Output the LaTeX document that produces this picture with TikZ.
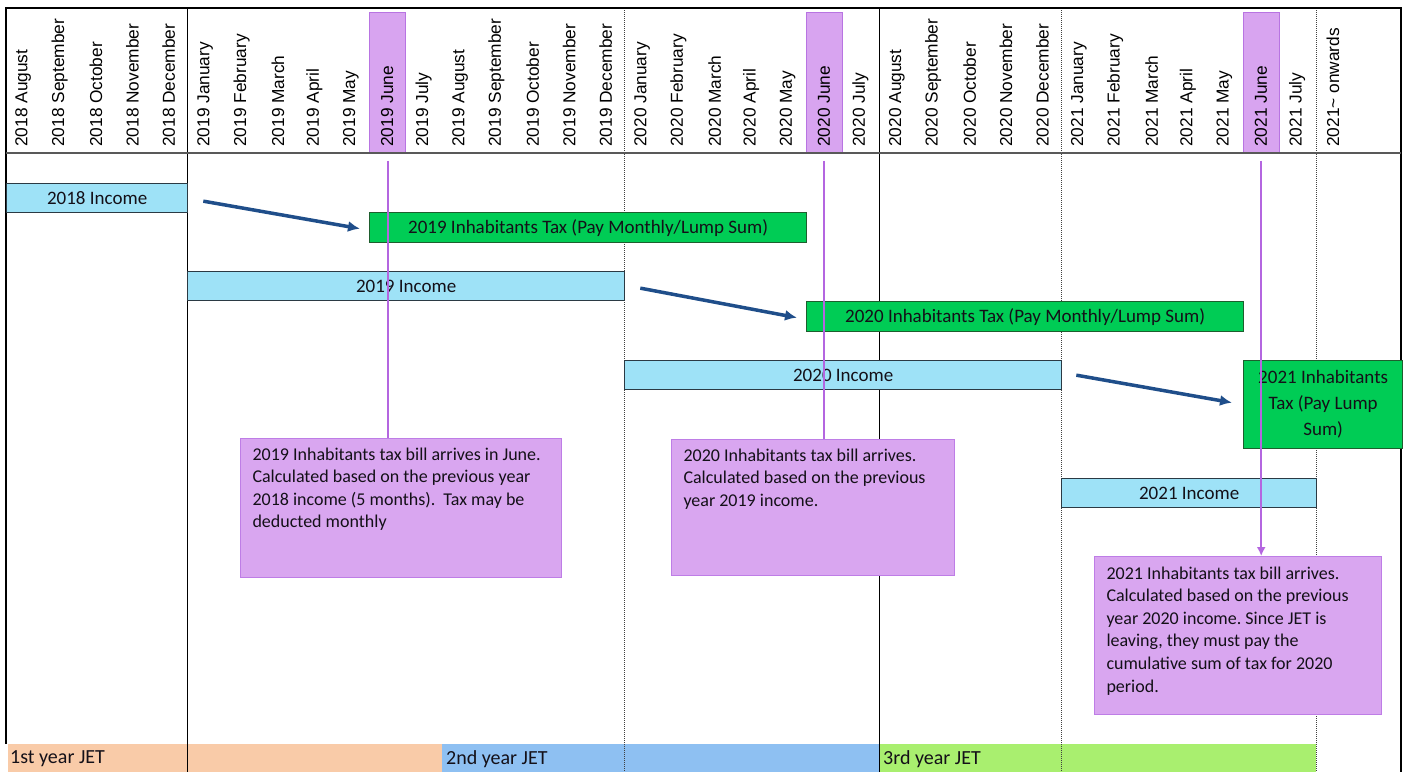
\documentclass[tikz,border=0pt]{standalone}
\usepackage{fontspec}
\setmainfont{Carlito}
\newfontfamily\hdrfont{Liberation Sans}
\usetikzlibrary{arrows.meta}
\frenchspacing
\definecolor{hlfill}{HTML}{D8A4F0}
\definecolor{hledge}{HTML}{B874E2}
\definecolor{pline}{HTML}{B466E0}
\definecolor{cofill}{HTML}{D9A6F0}
\definecolor{coedge}{HTML}{BE7DE6}
\definecolor{grfill}{HTML}{00CC55}
\definecolor{gredge}{HTML}{1E5E2E}
\definecolor{blfill}{HTML}{9EE2F7}
\definecolor{bledge}{HTML}{2B3A44}
\definecolor{arrcol}{HTML}{1F4E8A}
\definecolor{bandO}{HTML}{F9CBA8}
\definecolor{bandB}{HTML}{8EC0F2}
\definecolor{bandG}{HTML}{A9EF6F}
\definecolor{txt}{HTML}{141018}
\begin{document}
\begin{tikzpicture}[x=1pt,y=-1pt,
  hl/.style={fill=hlfill,draw=hledge,line width=0.8pt,inner sep=0pt,minimum width=36.4pt,minimum height=141pt,anchor=north west},
  hdr/.style={rotate=90,anchor=west,inner sep=0pt,font=\hdrfont\fontsize{17.3pt}{20pt}\selectfont,text=black},
  inc/.style={fill=blfill,draw=bledge,line width=1.3pt,inner sep=0pt,anchor=north west,minimum height=29pt,font=\fontsize{19pt}{23pt}\selectfont,text=txt},
  tax/.style={fill=grfill,draw=gredge,line width=1.3pt,inner sep=0pt,anchor=north west,minimum height=30pt,font=\fontsize{19pt}{23pt}\selectfont,text=txt},
  callout/.style={fill=cofill,draw=coedge,line width=1pt,inner xsep=12pt,inner ysep=9pt,anchor=north west,font=\fontsize{18pt}{22.6pt}\selectfont,text=txt},
  plinest/.style={draw=pline,line width=2pt},
  barr/.style={draw=arrcol,line width=3.5pt,-{Latex[length=12pt,width=11pt]}},
  dotln/.style={draw=black!75,line width=0.8pt,dash pattern=on 1pt off 1pt},
  solln/.style={draw=black,line width=0.9pt},
  bandlbl/.style={anchor=west,inner sep=0pt,font=\fontsize{20pt}{24pt}\selectfont,text=txt}]
\useasboundingbox (0,0) rectangle (1408,772);
\fill[white] (0,0) rectangle (1408,772);
% bottom bands
\fill[bandO] (8,744) rectangle (442,772);
\fill[bandB] (442,744) rectangle (879,772);
\fill[bandG] (879,744) rectangle (1316,772);
\node[bandlbl] (b1) at (10,759) {1st year JET};
\node[bandlbl] (b2) at (446,759) {2nd year JET};
\node[bandlbl] (b3) at (883,759) {3rd year JET};
% June highlights
\node[hl] (h19) at ({5+36.4*10},12) {};
\node[hl] (h20) at ({5+36.4*22},12) {};
\node[hl] (h21) at ({5+36.4*34},12) {};
% header labels
\foreach \t [count=\i from 0] in {2018 August,2018 September,2018 October,2018 November,2018 December,
  2019 January,2019 February,2019 March,2019 April,2019 May,2019 June,2019 July,2019 August,2019 September,2019 October,2019 November,2019 December,
  2020 January,2020 February,2020 March,2020 April,2020 May,2020 June,2020 July,2020 August,2020 September,2020 October,2020 November,2020 December,
  2021 January,2021 February,2021 March,2021 April,2021 May,2021 June,2021 July}
  \node[hdr] (m\i) at ({5+36.4*(\i+0.5)},147) {\t};
\node[hdr] (m36) at (1333,147) {2021\textasciitilde{} onwards};
% grid lines
\draw[solln] (187,8) -- (187,772);
\draw[dotln] (624,8) -- (624,772);
\draw[solln] (879,8) -- (879,772);
\draw[dotln] (1061,8) -- (1061,772);
\draw[dotln] (1316,8) -- (1316,772);
\draw[black,line width=1.2pt] (6,744) -- (6,8) -- (1401,8) -- (1401,772);
\draw[black!65,line width=2.2pt] (6,153) -- (1401,153);
% bars
\node[inc,minimum width=181pt] (i18) at (6,183) {2018 Income};
\node[tax,minimum width=437pt] (t19) at (369,212) {2019 Inhabitants Tax (Pay Monthly/Lump Sum)};
\node[inc,minimum width=437pt] (i19) at (187,271) {2019 Income};
\node[tax,minimum width=437pt] (t20) at (806,301) {2020 Inhabitants Tax (Pay Monthly/Lump Sum)};
\node[inc,minimum width=437pt] (i20) at (624,360) {2020 Income};
\node[tax,minimum width=159pt,minimum height=88pt,align=center,font=\fontsize{19pt}{26pt}\selectfont] (t21) at (1243,360) {2021 Inhabitants\\Tax (Pay Lump\\Sum)};
\node[inc,minimum width=255pt] (i21) at (1061,478) {2021 Income};
% callouts
\node[callout] (c1) at (240,438) {\parbox[c][121pt][t]{297pt}{\raggedright 2019 Inhabitants tax bill arrives in June.\\Calculated based on the previous year\\2018 income (5 months).\ \ Tax may be\\deducted monthly}};
\node[callout] (c2) at (671,439) {\parbox[c][118pt][t]{259pt}{\raggedright 2020 Inhabitants tax bill arrives.\\Calculated based on the previous\\year 2019 income.}};
\node[callout] (c3) at (1094,556) {\parbox[c][140pt][t]{263pt}{\raggedright\vspace*{1pt}2021 Inhabitants tax bill arrives.\\Calculated based on the previous\\year 2020 income. Since JET is\\leaving, they must pay the\\cumulative sum of tax for 2020\\period.}};
% purple lines
\draw[plinest] ([yshift=-7pt]h19.south) -- (h19.south |- c1.north);
\draw[plinest] ([yshift=-7pt]h20.south) -- (h20.south |- c2.north);
\draw[plinest,-{Latex[length=9pt,width=9pt]}] ([yshift=-7pt]h21.south) -- (h21.south |- c3.north);
% arrows
\draw[barr] ([xshift=15pt,yshift=-3pt]i18.east) -- ([xshift=-9pt,yshift=-1pt]t19.west);
\draw[barr] ([xshift=15pt,yshift=-2pt]i19.east) -- ([xshift=-9pt,yshift=-1pt]t20.west);
\draw[barr] ([xshift=14pt,yshift=0pt]i20.east) -- ([xshift=-11pt,yshift=2pt]t21.west);
\end{tikzpicture}
\end{document}
